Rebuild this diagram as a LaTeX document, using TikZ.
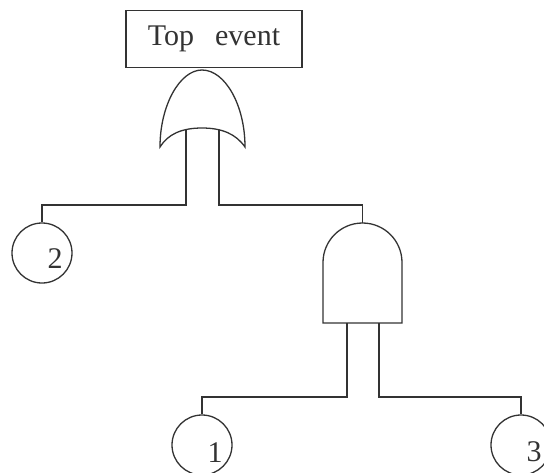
\documentclass[tikz,border=0pt]{standalone}
\usepackage{fontspec}
\setmainfont{Liberation Serif}
\definecolor{ink}{HTML}{333333}
\begin{document}
\begin{tikzpicture}[x=1pt,y=-1pt,
  evt/.style={circle, draw=ink, line width=1.3pt, minimum size=60pt, inner sep=0pt, font=\fontsize{30}{36}\selectfont, text=ink},
  wire/.style={draw=ink, line width=1.3pt},
  gate/.style={draw=ink, line width=1.3pt, fill=white}]
\fill[white] (0,0) rectangle (544,472);
\clip (0,0) rectangle (544,472);
% top event
\node[draw=ink, line width=1.3pt, minimum width=176pt, minimum height=57pt, inner sep=0pt,
      font=\fontsize{30}{36}\selectfont, text=ink] (top) at (214,39) {Top\hspace{21pt}event\hspace{16pt}};
% OR gate
\draw[gate] (160,147) .. controls (160,105) and (180,70) .. (202,70)
  .. controls (225,70) and (245,105) .. (245,147)
  .. controls (236,134) and (222,128) .. (202,128)
  .. controls (182,128) and (168,134) .. (160,147) -- cycle;
\coordinate (orL) at (186,130);
\coordinate (orR) at (219,130);
% AND gate
\draw[gate] (323,323) -- (323,262.5) arc[start angle=180, end angle=360, radius=39.5] -- (402,323) -- cycle;
\coordinate (andTop) at (362.5,223);
\coordinate (andL) at (347,323);
\coordinate (andR) at (379,323);
% basic events
\node[evt] (c2) at (42,253) {\hspace*{26pt}\rule{0pt}{30pt}2};
\node[evt] (c1) at (202,445) {\hspace*{26pt}\rule{0pt}{34pt}1};
\node[evt] (c3) at (521,445) {\hspace*{26pt}\rule{0pt}{34pt}3};
% wires
\coordinate (jL) at (186,205);
\coordinate (jR) at (219,205);
\coordinate (kL) at (347,397);
\coordinate (kR) at (379,397);
\draw[wire] (orL) -- (jL) -| (c2.north);
\draw[wire] (orR) -- (jR) -| (andTop);
\draw[wire] (andL) -- (kL) -| (c1.north);
\draw[wire] (andR) -- (kR) -| (c3.north);
\end{tikzpicture}
\end{document}
